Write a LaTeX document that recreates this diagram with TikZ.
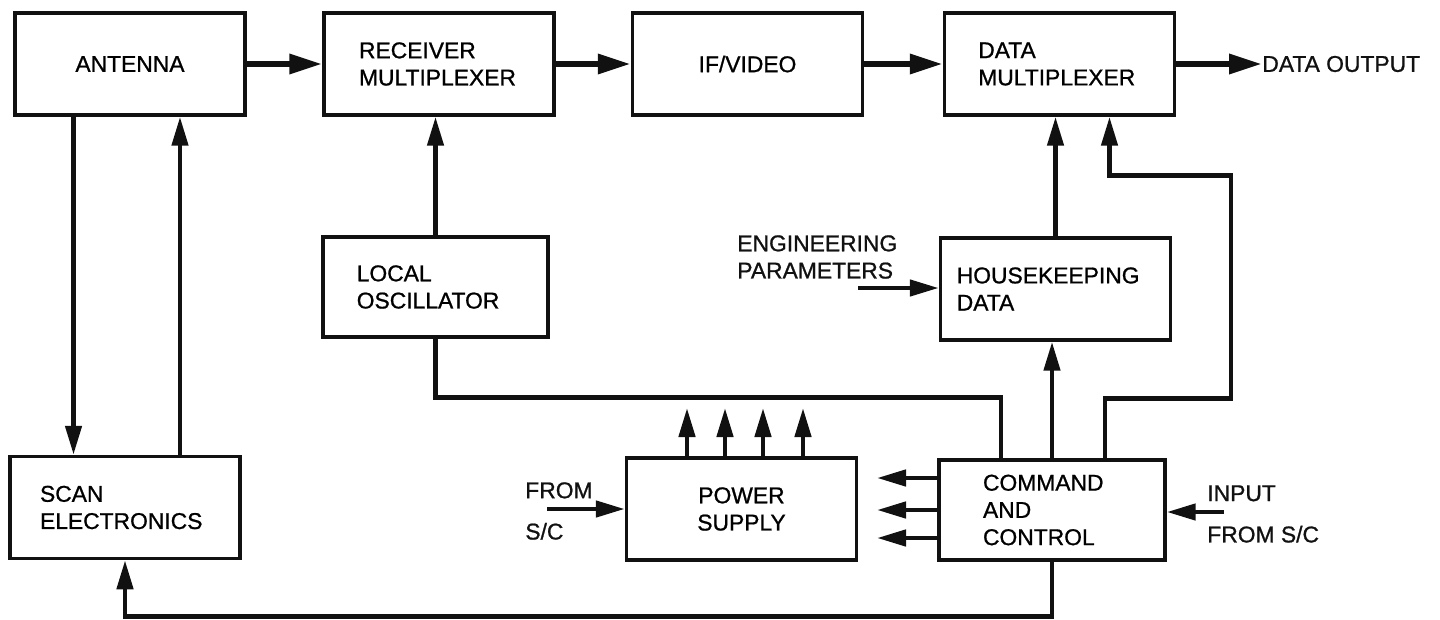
\documentclass[tikz,border=0pt]{standalone}
\usepackage{fontspec}
\setmainfont{Liberation Sans}[FakeBold=0.9]
\usetikzlibrary{arrows.meta}
\definecolor{ink}{HTML}{111111}
\tikzset{
  unit/.style={
    draw=ink,
    line width=2pt,
    minimum width=4.6cm,
    minimum height=2.04cm,
    align=left,
    inner sep=0pt,
    font=\fontsize{13}{15.5}\selectfont
  },
  note/.style={
    inner sep=0pt,
    align=left,
    text=ink,
    font=\fontsize{13}{15.5}\selectfont
  },
  flow/.style={-{Triangle[length=0.66cm,width=0.38cm]},line width=3.6pt,draw=ink},
  feed/.style={-{Triangle[length=0.58cm,width=0.32cm]},line width=2.6pt,draw=ink},
  wire/.style={line width=2.6pt,draw=ink}
}

\begin{document}
\begin{tikzpicture}[x=0.02cm,y=-0.02cm]
  \fill[white] (0,0) rectangle (1440,619);
  \useasboundingbox (0,0) rectangle (1440,619);

  % signal chain
  \node[unit, align=center] (ant) at (130,64) {ANTENNA};
  \node[unit, text width=3.2cm] (rxmux) at (439,64) {RECEIVER\\MULTIPLEXER};
  \node[unit, align=center] (ifv) at (747.5,64) {IF/VIDEO};
  \node[unit, text width=3.25cm] (dmux) at (1059.5,64) {DATA\\MULTIPLEXER};
  \node[note, anchor=west] (dout) at (1262,64) {DATA OUTPUT};

  \node[unit, text width=3.15cm, minimum width=4.5cm, minimum height=2cm] (lo) at (435.5,287) {LOCAL\\OSCILLATOR};
  \node[unit, text width=3.95cm] (hk) at (1055.5,289) {HOUSEKEEPING\\DATA};
  \node[note, anchor=west] (engpar) at (737,257) {ENGINEERING\\PARAMETERS};

  \node[unit, text width=3.4cm] (scan) at (125,507.5) {SCAN\\ELECTRONICS};
  \node[unit, align=center] (psu) at (741.5,509) {POWER\\SUPPLY};
  \node[unit, text width=2.76cm, minimum width=4.52cm, minimum height=2cm] (cc) at (1052,510) {COMMAND\\AND\\CONTROL};
  \node[note, anchor=west] (fromsc) at (525,511) {FROM\\[8pt]S/C};
  \node[note, anchor=west] (inputsc) at (1207,514) {INPUT\\[8pt]FROM S/C};

  % free ends of the short leads
  \coordinate (engin) at (858,288);
  \coordinate (psin) at (547,509);
  \coordinate (ccin) at (1224,512);

  \draw[flow] (ant) -- (rxmux);
  \draw[flow] (rxmux) -- (ifv);
  \draw[flow] (ifv) -- (dmux);
  \draw[flow] (dmux) -- (dout);

  \draw[feed] ([xshift=-1.13cm]ant.south) -- ([xshift=-1.13cm]ant.south |- scan.north);
  \draw[feed] ([xshift=1cm]ant.south |- scan.north) -- ([xshift=1cm]ant.south);
  \draw[feed] (lo.north) -- (lo.north |- rxmux.south);
  \draw[feed] (hk.north) -- (hk.north |- dmux.south);
  \draw[feed] (cc.north) -- (cc.north |- hk.south);
  \draw[feed] (engin) -- (engin -| hk.west);
  \draw[feed] (psin) -- (psin -| psu.west);
  \draw[feed] (ccin) -- (ccin -| cc.east);

  \draw[wire] (lo.south) -- ++(0,59) -| ([xshift=-1.02cm]cc.north);
  \draw[feed] ([xshift=1.06cm]cc.north) -- ++(0,-60) -| ++(126,-223) -| ([xshift=1cm]dmux.south);
  \draw[feed] (cc.south) -- ++(0,55) -| (scan.south);

  % power outputs and command lines
  \foreach \x [count=\k] in {687,725,763,803} {
    \coordinate (pwrout\k) at (\x,408);
    \draw[feed] (psu.north -| pwrout\k) -- (pwrout\k);
  }
  \foreach \y [count=\k] in {478,510,538} {
    \coordinate (cmdout\k) at (877,\y);
    \draw[feed] (cc.west |- cmdout\k) -- (cmdout\k);
  }
\end{tikzpicture}
\end{document}
